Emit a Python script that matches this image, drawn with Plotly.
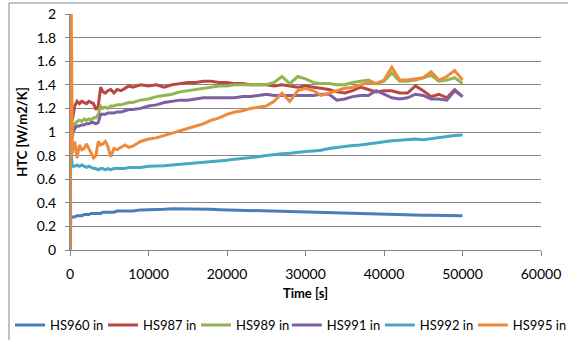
import plotly.graph_objects as go

time_s = [0, 100, 300, 600, 900, 1200, 1500, 1800, 2100, 2400, 2700, 3000, 3300, 3600, 3900,
          4200, 4500, 4800, 5200, 5600, 6000, 6500, 7000, 7500, 8000, 9000,
          10000, 11000, 12000, 13000, 14000, 15000, 16000, 17000, 18000, 19000, 20000,
          21000, 22000, 23000, 24000, 25000, 26000, 27000, 28000, 29000, 30000,
          31000, 32000, 33000, 34000, 35000, 36000, 37000, 38000, 39000, 40000,
          41000, 42000, 43000, 44000, 45000, 46000, 47000, 48000, 49000, 50000]

hs960 = [0, 0.27, 0.28, 0.28, 0.29, 0.29, 0.29, 0.30, 0.30, 0.30, 0.31, 0.31, 0.31, 0.31, 0.31,
         0.32, 0.32, 0.32, 0.32, 0.32, 0.33, 0.33, 0.33, 0.33, 0.33, 0.34,
         0.34, 0.345, 0.345, 0.35, 0.35, 0.35, 0.347, 0.345, 0.345, 0.342, 0.34,
         0.34, 0.336, 0.335, 0.332, 0.33, 0.33, 0.326, 0.325, 0.322, 0.32,
         0.32, 0.317, 0.316, 0.315, 0.312, 0.31, 0.31, 0.306, 0.305, 0.302,
         0.30, 0.30, 0.298, 0.296, 0.295, 0.294, 0.292, 0.292, 0.291, 0.29]

hs987 = [0, 1.15, 1.10, 1.22, 1.26, 1.24, 1.26, 1.25, 1.24, 1.26, 1.25, 1.24, 1.19, 1.22, 1.38,
         1.34, 1.33, 1.35, 1.36, 1.33, 1.36, 1.35, 1.37, 1.39, 1.38, 1.40,
         1.39, 1.40, 1.38, 1.40, 1.41, 1.42, 1.42, 1.43, 1.43, 1.42, 1.42,
         1.41, 1.41, 1.40, 1.40, 1.40, 1.39, 1.40, 1.39, 1.38, 1.39,
         1.38, 1.37, 1.36, 1.34, 1.33, 1.35, 1.38, 1.36, 1.34, 1.35,
         1.35, 1.33, 1.33, 1.39, 1.35, 1.30, 1.32, 1.29, 1.36, 1.30]

hs989 = [0, 1.00, 0.95, 1.07, 1.09, 1.10, 1.09, 1.11, 1.10, 1.11, 1.10, 1.12, 1.12, 1.15, 1.22,
         1.20, 1.21, 1.20, 1.22, 1.22, 1.23, 1.23, 1.24, 1.25, 1.25, 1.27,
         1.28, 1.30, 1.31, 1.32, 1.34, 1.35, 1.36, 1.37, 1.38, 1.39, 1.39,
         1.40, 1.40, 1.40, 1.40, 1.40, 1.42, 1.47, 1.41, 1.47, 1.45,
         1.42, 1.41, 1.41, 1.40, 1.40, 1.42, 1.43, 1.44, 1.41, 1.43,
         1.50, 1.43, 1.43, 1.44, 1.46, 1.48, 1.43, 1.44, 1.46, 1.41]

hs991 = [0, 1.00, 0.99, 1.03, 1.05, 1.05, 1.06, 1.06, 1.07, 1.07, 1.08, 1.08, 1.07, 1.08, 1.15,
         1.15, 1.15, 1.16, 1.16, 1.16, 1.17, 1.17, 1.18, 1.19, 1.19, 1.20,
         1.22, 1.23, 1.25, 1.26, 1.27, 1.27, 1.28, 1.29, 1.29, 1.29, 1.29,
         1.29, 1.30, 1.30, 1.31, 1.32, 1.31, 1.31, 1.31, 1.31, 1.31,
         1.31, 1.32, 1.32, 1.27, 1.28, 1.30, 1.31, 1.31, 1.35, 1.32,
         1.29, 1.28, 1.29, 1.32, 1.31, 1.28, 1.28, 1.27, 1.35, 1.30]

hs992 = [0, 0.85, 0.71, 0.71, 0.72, 0.71, 0.72, 0.71, 0.70, 0.71, 0.70, 0.69, 0.69, 0.68, 0.69,
         0.69, 0.68, 0.69, 0.68, 0.69, 0.69, 0.69, 0.69, 0.70, 0.70, 0.70,
         0.71, 0.71, 0.715, 0.72, 0.725, 0.73, 0.735, 0.74, 0.745, 0.755, 0.76,
         0.77, 0.775, 0.78, 0.79, 0.80, 0.81, 0.815, 0.82, 0.83, 0.835,
         0.84, 0.845, 0.86, 0.87, 0.875, 0.885, 0.89, 0.90, 0.91, 0.92,
         0.925, 0.93, 0.935, 0.94, 0.935, 0.945, 0.955, 0.96, 0.97, 0.975]

hs995 = [0, 2.5, 0.82, 0.92, 0.78, 0.89, 0.85, 0.86, 0.90, 0.86, 0.83, 0.78, 0.80, 0.92, 0.89,
         0.90, 0.92, 0.88, 0.79, 0.86, 0.85, 0.87, 0.89, 0.87, 0.88, 0.92,
         0.94, 0.95, 0.97, 0.99, 1.01, 1.03, 1.05, 1.07, 1.10, 1.12, 1.15,
         1.17, 1.18, 1.20, 1.21, 1.22, 1.26, 1.33, 1.26, 1.35, 1.37,
         1.35, 1.31, 1.33, 1.35, 1.37, 1.38, 1.40, 1.42, 1.41, 1.44,
         1.55, 1.44, 1.44, 1.45, 1.46, 1.51, 1.44, 1.47, 1.52, 1.44]

series_names = ["HS960 in", "HS987 in", "HS989 in", "HS991 in", "HS992 in", "HS995 in"]
series_values = [hs960, hs987, hs989, hs991, hs992, hs995]
series_colors = ["#4A7EBB", "#BA4643", "#93B551", "#7D60A0", "#46A8C3", "#EE8A3C"]

x_ticks = [0, 10000, 20000, 30000, 40000, 50000, 60000]
y_ticks = [0, 0.2, 0.4, 0.6, 0.8, 1, 1.2, 1.4, 1.6, 1.8, 2]

FONT = "Lato"
grey = "#868686"

fig = go.Figure()
for i, (name, vals, col) in enumerate(zip(series_names, series_values, series_colors)):
    fig.add_trace(go.Scatter(x=time_s, y=vals, name=name, mode="lines",
                             legend="legend" if i < 3 else "legend2",
                             line=dict(color=col, width=3)))

legend_common = dict(orientation="h", xref="container", yref="container",
                     xanchor="left", y=0.044, yanchor="middle",
                     font=dict(family=FONT, size=13, color="#000000"),
                     itemwidth=30, entrywidth=48, entrywidthmode="pixels",
                     bgcolor="rgba(0,0,0,0)")

fig.update_layout(
    width=568, height=340,
    margin=dict(l=70, r=27, t=14, b=90, autoexpand=False),
    paper_bgcolor="white", plot_bgcolor="white",
    font=dict(family=FONT, size=14, color="#000000"),
    showlegend=True,
    legend=dict(x=0.0176, **legend_common),
    legend2=dict(x=0.505, **legend_common),
    xaxis=dict(range=[0, 60000], tickvals=x_ticks, tickformat="d",
               showgrid=False, showline=True, linecolor=grey, linewidth=1,
               ticks="outside", ticklen=5, tickcolor=grey, zeroline=False,
               ticklabelstandoff=6, automargin=False,
               title=dict(text="<b>Time [s]</b>", standoff=8,
                          font=dict(family=FONT, size=13))),
    yaxis=dict(range=[0, 2], tickvals=y_ticks, showgrid=True, gridcolor=grey, gridwidth=1,
               showline=True, linecolor=grey, linewidth=1,
               ticks="outside", ticklen=4, tickcolor=grey, zeroline=False,
               ticklabelstandoff=6, automargin=False,
               title=dict(text="<b>HTC [W/m2/K]</b>", standoff=6,
                          font=dict(family=FONT, size=13))),
    shapes=[dict(type="rect", xref="paper", yref="paper",
                 x0=-0.1295, x1=1.2, y0=-0.6, y1=1.0466,
                 line=dict(color=grey, width=1), fillcolor="rgba(0,0,0,0)", layer="below")],
)

fig.write_html("out.html")
